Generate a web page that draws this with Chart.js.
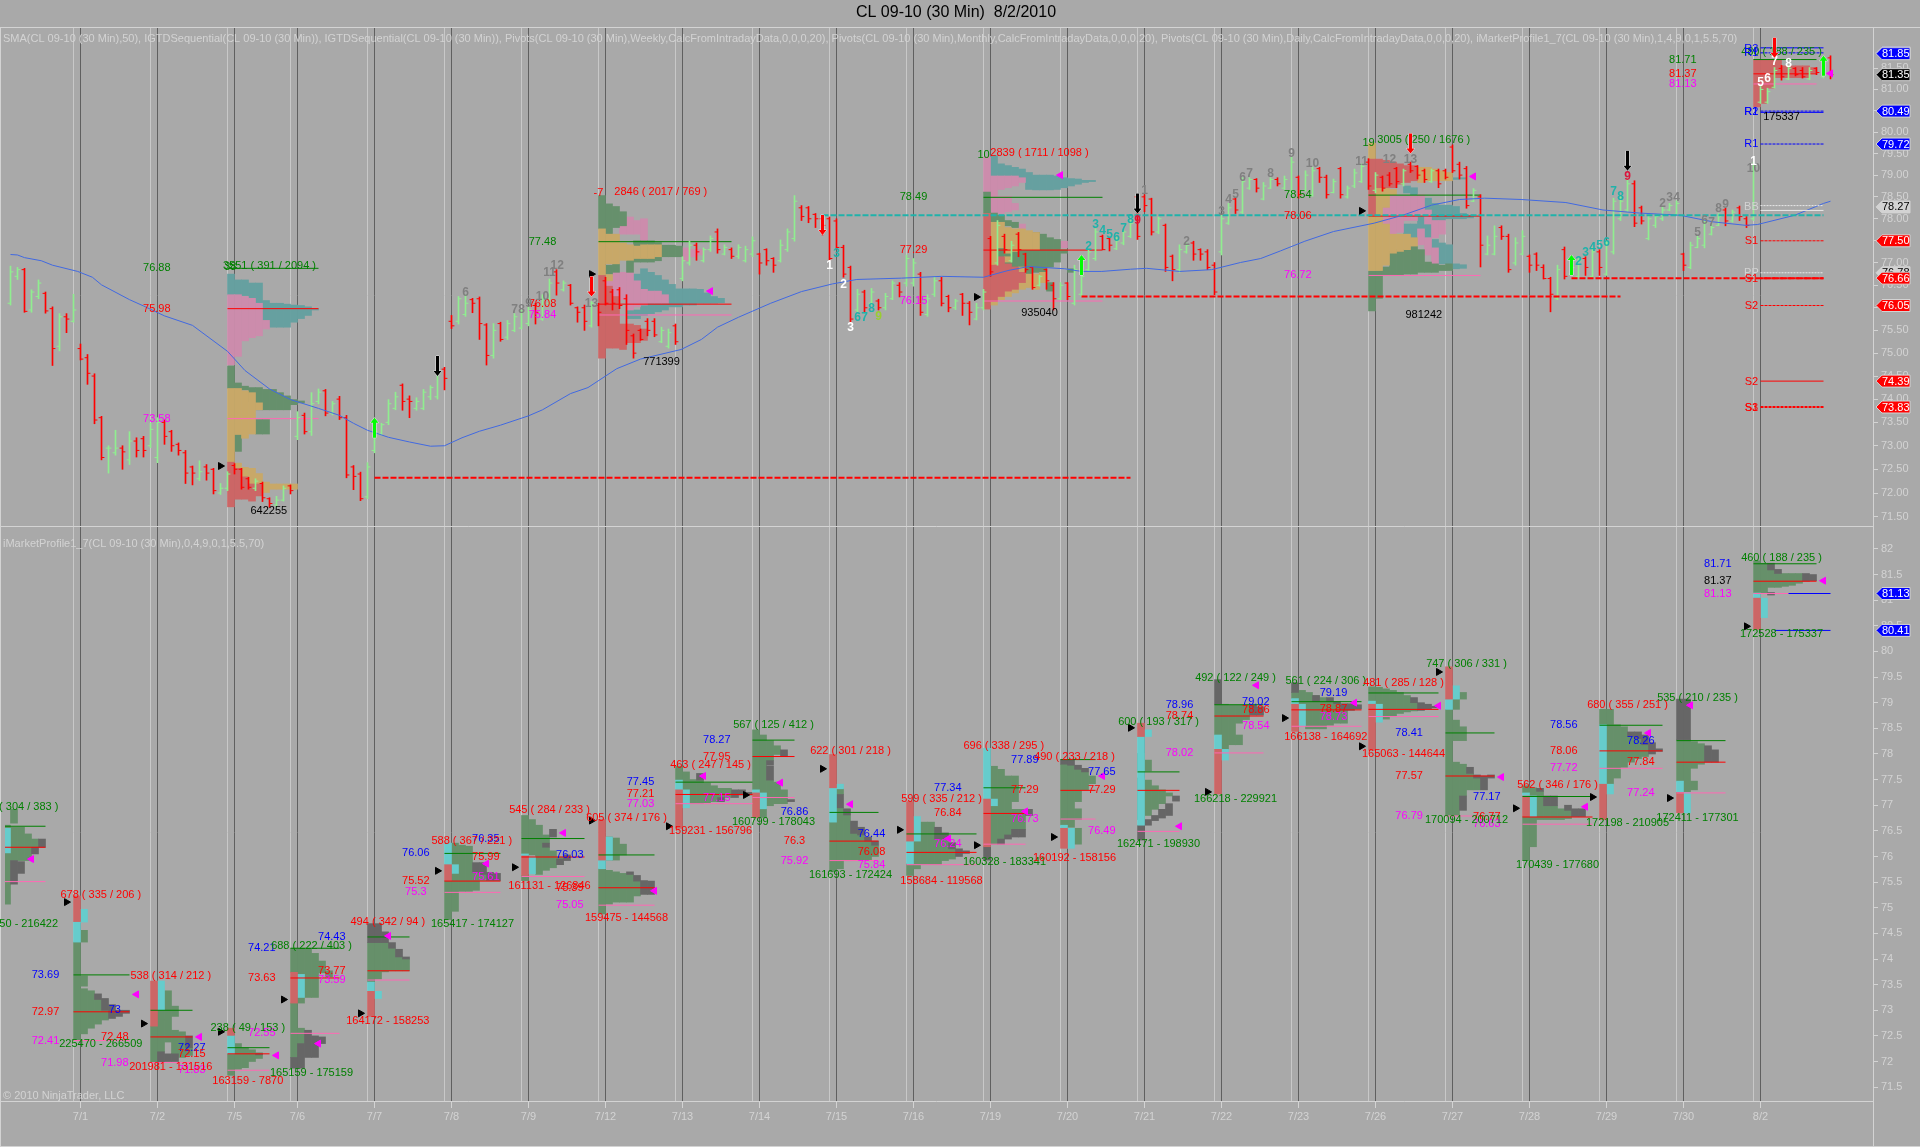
<!DOCTYPE html>
<html>
<head>
<meta charset="utf-8">
<title>CL 09-10 (30 Min) 8/2/2010</title>
<script src="https://cdn.jsdelivr.net/npm/chart.js"></script>
<style>
  html, body { margin: 0; padding: 0; background: #a9a9a9; overflow: hidden; }
  canvas { display: block; }
</style>
</head>
<body>
<canvas id="chart" width="1920" height="1147"></canvas>
<script>
// ====== 30 MIN BARS (one value per bar, left to right) ======
const barHigh = [
  76.93,76.90,76.88,76.40,76.62,76.35,76.02,75.87,75.87,76.30,
  75.20,74.97,74.55,73.63,73.00,73.33,73.00,73.30,73.17,73.20,73.48,
  73.60,73.55,73.33,73.06,72.90,72.57,72.68,72.60,72.52,72.20,72.45,
  72.62,72.52,72.33,72.30,72.23,71.90,71.93,72.15,72.17,
  73.73,73.70,74.14,74.22,74.21,73.95,74.06,73.65,72.58,72.44,72.64,
  73.46,73.48,73.99,74.15,74.33,74.07,74.03,74.21,74.29,74.66,74.69,
  75.83,76.25,76.29,76.21,76.24,75.65,75.65,75.68,75.72,75.87,75.95,
  76.02,76.10,76.29,76.64,76.85,76.60,76.52,76.02,76.06,76.14,76.10,
  76.68,76.41,76.45,76.29,75.42,75.53,75.76,75.76,75.57,75.53,75.64,
  77.14,77.49,77.45,77.34,77.61,77.77,77.41,77.34,77.41,77.38,77.59,
  77.22,77.32,77.12,77.52,77.77,78.53,78.30,78.28,78.12,78.05,78.04,
  78.00,77.40,76.93,76.41,76.39,76.43,76.19,76.32,76.60,76.56,77.18,
  77.10,76.79,76.29,76.68,76.68,76.28,76.19,76.32,76.14,76.10,76.41,
  77.60,77.96,77.65,77.49,77.69,77.22,76.91,76.72,76.87,76.56,76.56,
  76.56,76.95,76.79,77.30,77.77,77.63,77.57,77.57,77.73,77.96,78.55,
  78.55,78.47,78.04,77.88,77.18,77.41,77.45,77.49,77.32,77.30,77.01,
  78.08,78.35,78.47,78.94,78.94,78.92,78.83,78.94,78.94,78.98,79.42,
  78.98,79.10,79.18,79.18,79.00,78.91,79.18,78.75,79.14,79.26,
  79.38,79.06,78.98,79.06,79.18,79.14,79.30,79.22,79.14,79.14,79.14,
  79.14,79.70,79.30,79.20,78.69,78.55,77.61,77.84,77.84,77.65,77.57,
  77.73,77.18,77.23,76.96,76.68,76.95,77.36,76.95,77.10,77.14,77.34,
  77.30,77.49,78.47,78.51,78.91,78.87,78.29,78.08,78.08,78.28,78.35,
  78.41,77.22,77.47,77.61,77.96,77.88,78.12,78.24,78.20,78.29,78.05,
  79.30,81.07,81.03,81.52,81.57,81.57,81.52,81.52,81.52,81.52,81.76,81.80
];
const barLow = [
  76.06,76.63,75.90,75.90,76.20,75.88,74.73,75.05,75.45,75.68,
  74.85,74.32,73.47,72.70,72.42,72.80,72.50,72.60,72.76,72.76,72.96,
  72.64,73.03,72.88,72.80,72.20,72.17,72.26,72.27,71.98,71.97,72.05,
  72.40,72.08,72.08,72.05,71.82,71.70,71.70,71.83,71.98,
  73.13,73.25,73.22,73.90,73.64,73.66,73.56,72.32,72.07,71.84,71.88,
  72.85,73.23,73.45,73.77,73.76,73.60,73.76,73.77,73.99,74.00,74.20,
  75.54,75.64,75.81,75.89,75.30,74.74,74.89,75.26,75.30,75.47,75.53,
  75.60,75.64,75.72,76.06,76.28,76.37,76.06,75.68,75.50,75.57,75.60,
  76.06,75.95,75.98,75.19,74.89,75.28,75.38,75.36,75.23,75.11,75.19,
  76.60,76.95,77.06,77.02,77.26,77.22,77.18,77.10,77.10,77.02,77.14,
  76.75,76.95,76.79,77.02,77.26,77.49,77.96,77.91,77.80,77.63,77.06,
  77.30,76.68,75.68,75.91,75.89,76.06,75.95,75.95,76.18,76.24,76.48,
  76.48,75.83,75.81,76.25,76.04,75.91,75.96,75.83,75.62,75.73,75.95,
  76.70,76.95,77.22,77.02,77.14,76.79,76.41,76.48,76.41,75.95,76.18,
  76.18,76.06,76.25,76.83,77.06,77.30,77.27,77.30,77.41,77.57,77.53,
  78.16,77.63,77.66,76.81,76.60,76.79,77.22,77.06,77.06,76.85,76.29,
  77.18,77.87,78.12,78.12,78.67,78.61,78.43,78.69,78.75,78.67,78.55,
  78.47,78.63,78.51,78.83,78.47,78.59,78.47,78.47,78.71,78.83,
  78.67,78.59,78.63,78.75,78.71,78.75,79.06,78.91,78.83,78.83,78.71,
  78.91,79.06,78.91,78.24,78.39,76.91,77.18,77.18,77.53,76.79,76.95,
  77.18,76.79,76.83,76.64,75.91,76.18,76.64,76.72,76.68,76.72,76.68,
  76.72,76.72,77.20,77.96,78.16,77.82,77.88,77.52,77.80,77.96,78.18,
  78.08,76.83,76.87,77.34,77.34,77.63,77.84,77.84,77.92,77.96,77.80,
  77.96,80.67,80.67,81.03,81.22,81.23,81.32,81.27,81.23,81.35,81.27,81.25
];
const barOpen = [
  76.10,76.70,76.85,75.95,76.25,76.32,75.98,75.15,75.80,75.70,
  75.10,74.90,74.50,73.60,72.95,72.85,72.95,72.70,73.10,73.15,73.00,
  72.75,73.50,73.30,73.03,72.85,72.55,72.30,72.55,72.50,72.00,72.10,
  72.58,72.50,72.30,72.10,72.20,71.88,71.75,71.85,72.15,
  73.20,73.65,73.30,73.95,74.18,73.70,74.00,73.60,72.55,72.40,71.92,
  72.90,73.25,73.50,73.80,74.30,74.00,73.80,73.80,74.05,74.05,74.65,
  75.70,75.70,75.85,76.18,76.20,75.62,74.95,75.65,75.35,75.50,75.55,
  75.65,76.05,75.75,76.10,76.80,76.40,76.50,76.00,76.00,75.60,76.05,
  76.60,76.35,76.40,76.20,75.38,75.50,75.70,75.70,75.25,75.15,75.60,
  76.65,77.00,77.40,77.05,77.30,77.70,77.20,77.30,77.15,77.05,77.20,
  77.20,77.30,77.10,77.05,77.30,77.55,78.25,78.25,78.10,78.00,78.00,
  77.95,77.35,76.90,75.95,76.35,76.10,76.15,76.00,76.20,76.50,76.55,
  76.55,76.75,75.85,76.30,76.60,76.25,76.00,76.30,76.10,75.75,76.00,
  77.55,77.00,77.60,77.05,77.65,77.20,76.90,76.50,76.85,76.50,76.20,
  76.55,76.10,76.30,76.85,77.10,77.60,77.55,77.32,77.45,77.60,78.50,
  78.50,78.45,77.70,77.85,77.15,76.85,77.25,77.45,77.30,77.25,76.95,
  77.25,77.90,78.45,78.15,78.70,78.90,78.45,78.70,78.90,78.70,78.60,
  78.95,78.65,78.55,79.15,78.95,78.60,79.15,78.50,78.75,78.85,
  79.30,78.65,78.95,79.00,79.15,78.80,79.25,79.20,79.10,78.85,79.10,
  79.10,79.65,79.25,79.15,78.40,78.50,77.20,77.20,77.80,77.60,77.00,
  77.20,77.15,77.20,76.90,76.65,76.20,77.30,76.75,76.70,77.10,76.70,
  77.25,76.75,77.25,78.00,78.20,78.80,78.25,77.55,77.85,78.00,78.20,
  78.10,77.20,76.90,77.35,77.40,77.65,77.85,78.20,77.95,78.25,78.00,
  78.00,80.70,80.70,81.05,81.50,81.25,81.50,81.45,81.25,81.50,81.30,81.75
];
const barClose = [
  76.80,76.85,75.92,76.35,76.55,75.93,75.10,75.80,75.75,75.95,
  74.87,74.56,73.55,72.75,72.95,72.95,72.87,73.10,72.90,72.90,73.35,
  73.50,73.20,73.00,72.90,72.42,72.42,72.45,72.42,72.05,72.10,72.40,
  72.50,72.12,72.12,72.25,71.90,71.78,71.85,72.10,72.05,
  73.60,73.30,73.90,74.15,73.70,73.90,73.60,72.38,72.35,71.88,72.55,
  73.30,73.45,73.90,74.05,73.95,73.95,73.95,74.15,74.25,74.55,74.45,
  75.60,76.20,76.10,76.10,75.65,74.95,75.50,75.30,75.65,75.80,75.90,
  75.95,75.90,76.20,76.55,76.55,76.55,76.10,75.90,75.70,76.10,75.90,
  76.10,76.10,76.05,75.50,75.00,75.30,75.50,75.40,75.50,75.45,75.25,
  77.05,77.40,77.25,77.30,77.55,77.30,77.35,77.15,77.35,77.30,77.50,
  77.00,77.05,76.95,77.40,77.70,78.40,78.05,78.00,78.00,77.85,77.10,
  77.35,76.75,75.75,76.30,76.00,76.35,76.00,76.25,76.55,76.35,77.10,
  77.00,75.90,76.20,76.60,76.10,76.00,76.15,76.10,75.90,76.00,76.35,
  76.80,77.85,77.30,77.40,77.30,76.85,76.45,76.70,76.60,76.20,76.50,
  76.25,76.85,76.70,77.25,77.70,77.30,77.40,77.50,77.70,77.90,77.60,
  78.30,77.70,78.00,76.90,76.85,77.30,77.40,77.20,77.20,76.90,76.35,
  78.00,78.25,78.20,78.85,78.90,78.70,78.75,78.90,78.80,78.90,79.30,
  78.55,79.00,79.10,78.95,78.55,78.85,78.55,78.70,79.05,79.20,
  78.75,79.00,78.70,78.80,78.85,79.10,79.10,79.00,78.90,79.10,78.80,
  78.95,79.10,79.00,78.30,78.65,77.40,77.40,77.60,77.60,76.85,77.45,
  77.60,76.95,76.95,76.65,76.30,76.85,76.70,76.90,77.05,76.90,77.25,
  76.90,77.45,78.40,78.40,78.80,77.90,77.95,78.00,78.05,78.20,78.30,
  78.35,76.95,77.40,77.55,77.90,77.80,78.05,77.95,78.15,78.05,77.85,
  79.20,81.00,80.95,81.45,81.30,81.50,81.35,81.30,81.45,81.40,81.70,81.35
];

// ====== SMA 50 AT THESE BARS ======
const smaBar = [0,1,2,4.4,6,9.6,11.7,13,17,19,22,26,31,33.5,37,40,44,47,49,51,54,57,60,62,64.5,67,70,74,76,80,82.5,86.6,90,95.8,98.7,101,104,108.6,113,117.4,120.9,127.3,133,139,142.5,145.4,150.6,153,155.9,160,162.3,167,171.6,175.7,178.6,181.4,184.9,189,194.8,198.9,203,207,210.6,215.8,222.2,227.5,232.7,238.5,243.2,247.9,249.6,254.9,259,260];
const smaValue = [77.19,77.18,77.12,77.05,76.95,76.81,76.68,76.51,76.18,76.04,75.82,75.61,75.04,74.62,74.22,73.99,73.80,73.65,73.48,73.33,73.18,73.08,72.99,73.00,73.17,73.31,73.44,73.64,73.77,74.12,74.25,74.66,74.87,75.08,75.30,75.57,75.79,76.10,76.36,76.53,76.63,76.66,76.70,76.68,76.83,76.92,76.87,76.81,76.81,76.86,76.88,76.81,76.85,77.01,77.10,77.27,77.49,77.71,77.90,78.08,78.31,78.44,78.47,78.44,78.37,78.20,78.13,78.08,77.93,77.85,77.87,78.08,78.35,78.40];

// ====== SESSIONS ======
const dayLabels = ["7/1","7/2","7/5","7/6","7/7","7/8","7/9","7/12","7/13","7/14","7/15","7/16","7/19","7/20","7/21","7/22","7/23","7/26","7/27","7/28","7/29","7/30","8/2"];
const dayStart = [9,20,31,40,51,62,73,84,95,106,117,128,139,150,161,172,183,194,205,216,227,238,249];

// ====== DAILY PROFILE LEVELS (LOWER PANEL) ======
const lowerStart = [-1,9,20,31,40,51,62,73,84,95,106,117,128,139,150,161,172,183,194,205,216,227,238,249];
const lowerEnd   = [5,17,26,37,47,57,70,82,92,106,112,124,138,145,155,167,179,193,204,212,226,236,245,258];
const lowerVah   = [76.59,73.69,73,72.27,74.21,74.43,76.06,76.35,76.03,77.45,78.27,76.86,76.44,77.34,77.89,77.65,78.96,79.02,79.19,78.41,77.17,78.56,78.26,81.71];
const lowerPoc   = [76.18,72.97,72.48,72.15,73.63,73.77,75.52,75.99,75.39,77.21,77.95,76.3,76.08,76.84,77.29,77.29,78.74,78.86,78.87,77.57,76.77,78.06,77.84,81.37];
const lowerVal   = [75.51,72.41,71.98,71.83,72.55,73.59,75.3,75.61,75.05,77.03,77.15,75.92,75.84,76.24,76.73,76.49,78.02,78.54,78.73,76.79,76.63,77.72,77.24,81.13];
const lowerValueX = [null,5,14.9,25.9,35.9,45.9,57.9,67.9,79.9,90,100.9,112,123,133.9,144.9,155.9,167,177.9,189,199.8,210.9,221.9,232.9,243.9];

// ====== COMPOSITE PROFILE LEVELS (UPPER PANEL) ======
const upperStart = [31,84,139,194,249];
const upperEnd   = [44,103,156,210,258];
const upperVah   = [76.88,77.48,78.49,78.54,81.71];
const upperPoc   = [75.98,76.08,77.29,78.06,81.37];
const upperVal   = [73.58,75.84,76.15,76.72,81.13];
const upperValueX = [20.9,76,129,183.9,238.9];

// ====== DASHED LEVELS (UPPER PANEL) ======
const redLevelFrom = [52,153,223];
const redLevelTo = [160,230,259];
const redLevelPrice = [72.32,76.25,76.66];
const tealLevelFrom = [116];
const tealLevelTo = [259];
const tealLevelPrice = [78.08];

// ====== PIVOTS ======
const pivotFrom = 250;
const pivotTo = 259;
const pivotBlueSolid = [81.99,80.46];
const pivotBlueDotted = [81.87,80.49,79.72];
const pivotWhiteSolid = [78.19];
const pivotWhiteDotted = [78.30,76.78];
const pivotRedSolid = [74.39];
const pivotRedDotted = [77.50,76.05];
const pivotRedHeavy = [76.66,73.83];
const pivotNames = [["R3",81.97],["R1",81.86],["R2",80.47],["R1",80.46],["R1",79.71]];
const pivotNamesWhite = [["BB",78.27],["PP",76.78]];
const pivotNamesRed = [["S1",77.49],["S1",76.64],["S2",76.04],["S2",74.38],["S3",73.81],["S1",73.81]];

// ====== PROFILE COLUMNS, UPPER PANEL: [bar, low, high] ======
const upperTeal = [
  [31.5,76.29,76.75],[32.5,76.29,76.62],[33.5,76.27,76.62],[34.5,76.21,76.55],[35.5,75.98,76.55],[36.5,75.72,76.16],[37.5,75.57,76.10],[38.5,75.57,76.10],[39.5,75.57,76.08],[40.5,75.68,76.06],[41.5,75.76,76.05],[42.5,75.83,76.02],[43.5,75.95,75.98],
  [88.5,75.76,75.95],[88.5,76.60,76.75],[89.5,75.76,75.95],[89.5,76.60,76.75],[90.5,75.83,76.06],[90.5,76.41,76.87],[91.5,75.87,76.10],[91.5,76.37,76.79],[92.5,75.91,76.10],[92.5,76.37,76.72],[93.5,75.95,76.10],[93.5,76.29,76.62],[94.5,76.02,76.52],[95.5,76.02,76.42],[96.5,76.06,76.42],[97.5,76.06,76.42],[98.5,76.10,76.41],[99.5,76.10,76.33],[100.5,76.10,76.25],[101.5,76.11,76.21],
  [140.5,78.98,79.45],[141.5,78.98,79.26],[142.5,78.98,79.22],[143.5,78.98,79.18],[144.5,78.94,79.14],[145.5,78.67,79.06],[146.5,78.66,79.00],[147.5,78.66,79.00],[148.5,78.66,79.00],[149.5,78.67,78.98],[150.5,78.71,78.94],[151.5,78.75,78.92],[152.5,78.79,78.91],[153.5,78.83,78.88],[154.5,78.85,78.88],
  [199.5,78.59,78.75],[199.5,77.65,77.88],[200.5,78.55,78.71],[200.5,77.57,77.88],[201.5,77.77,78.05],[202.5,78.20,78.47],[202.5,77.57,77.88],[203.5,77.96,78.35],[203.5,77.34,77.53],[204.5,77.96,78.31],[204.5,76.98,77.45],[205.5,78.00,78.31],[205.5,76.98,77.41],[206.5,78.90,78.94],[206.5,78.00,78.28],[206.5,76.87,76.98],[207.5,78.91,78.94],[207.5,78.00,78.12],[207.5,76.88,76.96],[208.5,78.02,78.08]
];
const upperPink = [
  [31.5,74.74,76.29],[32.5,74.93,76.29],[33.5,75.27,76.25],[34.5,75.34,76.21],[35.5,75.38,76.10],[36.5,75.53,75.72],
  [85.5,76.48,76.60],[86.5,76.25,76.79],[87.5,76.18,76.79],[87.5,77.65,77.84],[88.5,75.95,76.79],[88.5,77.65,78.04],[89.5,76.02,76.60],[89.5,77.65,77.96],[90.5,76.06,76.41],[90.5,77.50,78.00],[91.5,76.10,76.37],[92.5,76.10,76.37],[93.5,76.10,76.29],[96.5,77.05,77.34],[97.5,77.14,77.30],[98.5,77.18,77.30],
  [139.5,78.59,79.42],[140.5,78.13,78.98],[141.5,78.67,78.98],[141.5,78.12,78.51],[142.5,78.71,78.98],[142.5,78.16,78.51],[143.5,78.75,78.98],[143.5,78.20,78.35],[144.5,78.83,78.94],[144.5,77.77,77.88],[150.5,77.34,77.49],
  [196.5,77.88,78.26],[197.5,77.65,78.55],[198.5,77.69,78.51],[199.5,77.96,78.51],[200.5,77.96,78.51],[201.5,78.12,78.55],[201.5,77.41,77.77],[202.5,77.88,78.20],[202.5,77.18,77.57],[203.5,77.57,77.96],[203.5,76.95,77.34],[204.5,77.65,77.96]
];
const upperGreen = [
  [31.5,74.23,74.72],[32.5,74.23,74.35],[32.5,72.88,73.24],[33.5,74.20,74.28],[34.5,73.96,74.25],[35.5,73.77,74.25],[35.5,73.25,73.56],[36.5,73.77,74.21],[36.5,73.25,73.56],[37.5,73.77,74.21],[38.5,73.77,74.14],[39.5,73.77,74.07],[40.5,73.88,73.99],[41.5,73.92,73.96],
  [84.5,77.77,78.53],[85.5,77.65,78.34],[85.5,76.75,76.95],[86.5,77.80,78.28],[86.5,76.79,76.98],[87.5,77.84,78.16],[88.5,76.79,77.06],[89.5,77.02,77.50],[90.5,77.02,77.50],[91.5,77.02,77.50],[92.5,77.05,77.46],[93.5,77.14,77.40],[94.5,77.14,77.40],[95.5,77.14,77.38],
  [139.5,78.13,78.61],[140.5,77.92,78.13],[141.5,77.92,78.08],[141.5,77.14,77.34],[142.5,77.84,77.96],[142.5,76.98,77.22],[143.5,77.80,77.92],[143.5,76.91,77.26],[144.5,76.75,77.30],[145.5,76.75,77.30],[146.5,76.79,77.69],[147.5,76.75,77.65],[148.5,76.91,77.57],[148.5,76.37,76.56],[149.5,77.02,77.53],[150.5,77.22,77.30],[151.5,76.79,76.87],
  [194.5,75.93,76.82],[195.5,76.21,76.83],[196.5,76.72,76.91],[197.5,76.72,77.26],[198.5,76.72,77.30],[199.5,76.75,77.30],[200.5,76.75,77.38],[201.5,76.79,77.30],[202.5,76.79,77.02],[203.5,76.79,76.98],[204.5,76.83,76.95],[205.5,76.83,76.98]
];
const upperOrange = [
  [31.5,72.65,74.23],[32.5,73.24,74.23],[33.5,73.16,74.18],[34.5,73.25,74.14],[35.5,73.77,73.92],[32.5,72.52,72.63],[33.5,72.34,72.54],[34.5,72.19,72.52],[35.5,71.94,72.41],[36.5,72.01,72.23],[37.5,72.08,72.19],[38.5,72.08,72.19],[39.5,72.08,72.19],[40.5,72.08,72.19],
  [84.5,76.72,77.77],[85.5,76.98,77.65],[85.5,76.60,76.74],[86.5,76.98,77.65],[87.5,77.06,77.45],[88.5,77.06,77.41],[89.5,77.10,77.38],[90.5,77.10,77.41],[91.5,77.10,77.41],[92.5,77.14,77.41],
  [140.5,76.95,77.92],[140.5,76.06,76.14],[141.5,77.34,77.92],[141.5,76.18,76.25],[142.5,77.22,77.80],[142.5,77.02,77.14],[142.5,76.25,76.37],[143.5,77.26,77.77],[143.5,76.33,76.41],[144.5,77.30,77.77],[144.5,76.41,76.91],[145.5,77.30,77.73],[145.5,76.45,76.75],[146.5,77.30,77.69],[146.5,76.41,76.75],[147.5,76.56,76.79],
  [194.5,79.38,79.74],[194.5,76.83,78.08],[195.5,76.83,78.71],[196.5,78.26,78.71],[196.5,76.95,77.88],[197.5,78.55,78.67],[197.5,77.22,77.65],[198.5,77.26,77.65],[199.5,77.30,77.65],[200.5,77.38,77.57],[201.5,78.83,79.18],[202.5,78.87,79.18],[203.5,78.87,79.14],[204.5,78.87,79.10],[205.5,78.87,79.06]
];
const upperRed = [
  [31.5,71.71,72.65],[32.5,71.87,72.52],[33.5,71.87,72.34],[34.5,71.83,72.19],[35.5,71.94,72.19],
  [84.5,74.89,76.72],[85.5,75.11,76.48],[86.5,75.11,76.25],[87.5,75.08,75.64],[88.5,75.23,75.64],[89.5,75.23,75.61],[90.5,75.28,75.53],
  [139.5,75.97,78.12],[140.5,76.14,76.95],[141.5,76.25,77.14],[142.5,76.37,76.98],[143.5,76.41,76.91],[144.5,76.56,76.79],
  [194.5,78.08,79.37],[195.5,78.71,79.37],[196.5,78.71,79.34],[197.5,78.71,79.30],[198.5,78.79,79.26],[199.5,78.83,79.22],[200.5,78.87,79.22],
  [249.5,80.59,81.71],[250.5,80.67,81.71],[251.5,81.03,81.71],[252.5,81.28,81.71],[253.5,81.28,81.56],[254.5,81.28,81.56],[255.5,81.28,81.56],[256.5,81.28,81.56],[257.5,81.40,81.52]
];

// ====== PROFILE COLUMNS, LOWER PANEL: [bar, low, high] ======
const lowerGreen = [
  [-0.5,75.07,76.61],[0.5,76.65,76.92],[0.5,75.92,76.57],[1.5,75.92,76.57],[2.5,75.92,76.44],[3.5,76.18,76.34],
  [9.5,72.42,74.33],[10.5,74.33,74.56],[10.5,73.47,73.67],[10.5,72.54,73.42],[11.5,72.65,73.38],[12.5,72.73,73.21],[13.5,72.81,73.00],
  [20.5,71.98,72.69],[21.5,72.81,73.01],[21.5,72.19,72.81],[22.5,72.38,73.38],[23.5,72.88,73.08],[23.5,72.15,72.61],[24.5,72.08,72.58],[25.5,72.12,72.27],
  [31.5,71.73,72.15],[32.5,71.85,72.35],[33.5,71.88,72.27],[34.5,72.00,72.23],[35.5,72.06,72.17],
  [40.5,73.74,74.21],[40.5,72.08,73.14],[41.5,73.70,74.21],[41.5,73.14,73.25],[41.5,72.35,72.65],[42.5,73.25,74.19],[43.5,73.25,74.11],[44.5,73.73,73.96],[45.5,73.65,73.77],
  [51.5,73.55,74.32],[52.5,73.61,74.32],[53.5,73.75,74.32],[54.5,73.77,74.21],[55.5,73.77,74.04],[56.5,73.77,74.00],
  [62.5,74.77,75.53],[63.5,75.84,76.26],[63.5,74.93,75.67],[64.5,75.32,76.22],[65.5,75.32,76.20],[66.5,75.34,75.69],[67.5,75.53,75.65],
  [73.5,76.05,76.80],[73.5,75.53,75.63],[74.5,76.03,76.72],[75.5,75.65,76.61],[76.5,76.26,76.42],[76.5,75.73,76.18],[77.5,75.78,76.11],[78.5,75.84,75.99],
  [84.5,74.88,75.76],[85.5,75.93,76.38],[85.5,75.07,75.73],[86.5,75.93,76.36],[86.5,75.11,75.70],[87.5,76.03,76.24],[87.5,75.11,75.67],[88.5,75.11,75.65],[89.5,75.23,75.52],
  [95.5,77.49,77.76],[96.5,77.30,77.65],[97.5,77.03,77.50],[98.5,77.03,77.49],[99.5,77.05,77.43],[100.5,77.07,77.38],[101.5,77.15,77.33],[102.5,77.15,77.33],
  [106.5,77.30,78.47],[107.5,77.24,78.37],[107.5,76.76,76.93],[108.5,77.87,78.26],[108.5,76.99,77.49],[109.5,77.99,78.16],[109.5,77.03,77.45],[110.5,77.03,77.30],
  [117.5,75.70,76.67],[118.5,77.21,77.32],[118.5,75.76,76.95],[119.5,75.93,76.81],[120.5,75.93,76.45],[121.5,75.93,76.42],[122.5,75.93,76.30],[123.5,76.00,76.22],
  [128.5,75.63,75.86],[129.5,75.76,76.30],[130.5,75.84,76.67],[131.5,75.84,76.67],[132.5,75.84,76.46],[133.5,75.92,76.34],[134.5,75.95,76.15],
  [140.5,76.99,77.76],[140.5,76.24,77.00],[141.5,76.34,77.70],[142.5,76.42,77.57],[143.5,77.07,77.57],[143.5,76.53,76.92],[144.5,76.53,76.92],
  [150.5,76.61,77.80],[151.5,76.57,77.78],[152.5,77.07,77.70],[152.5,76.72,76.93],[152.5,76.24,76.55],[153.5,77.30,77.65],[154.5,77.42,77.57],
  [161.5,76.72,77.53],[161.5,77.67,78.01],[162.5,77.67,77.88],[162.5,76.80,77.49],[163.5,76.92,77.38],[164.5,77.03,77.30],[165.5,77.18,77.24],
  [172.5,78.37,78.97],[173.5,78.09,78.97],[174.5,78.18,78.95],[175.5,78.60,78.95],[175.5,78.18,78.37],[176.5,78.67,78.95],
  [183.5,79.08,79.20],[184.5,78.97,79.24],[185.5,78.49,79.20],[186.5,78.49,79.14],[187.5,78.49,79.10],[188.5,78.56,79.02],[189.5,78.60,78.98],[190.5,78.60,78.95],
  [194.5,79.03,79.31],[195.5,78.97,79.30],[196.5,78.68,79.27],[197.5,78.74,79.24],[198.5,78.79,79.20],[199.5,78.82,79.14],[200.5,78.84,79.00],
  [205.5,76.80,78.87],[206.5,78.87,79.07],[206.5,78.26,78.66],[206.5,76.80,77.84],[207.5,79.07,79.20],[207.5,78.26,78.53],[207.5,77.18,77.80],[208.5,77.30,77.62],[209.5,77.30,77.53],
  [216.5,77.24,77.38],[216.5,75.92,76.78],[217.5,77.18,77.34],[217.5,76.19,76.78],[218.5,76.72,77.27],[219.5,76.72,76.99],[220.5,76.72,76.99],[221.5,76.72,76.93],[222.5,76.74,76.90],
  [227.5,78.57,78.87],[228.5,77.41,78.87],[229.5,77.53,78.57],[230.5,77.74,78.53],[231.5,77.84,78.34],[232.5,77.91,78.30],[233.5,77.95,78.18],
  [238.5,77.47,78.28],[239.5,77.25,78.28],[240.5,77.72,78.24],[240.5,77.30,77.47],[241.5,77.80,78.20],
  [249.5,81.14,81.77],[250.5,81.14,81.72],[251.5,81.25,81.59],[252.5,81.25,81.52],[253.5,81.27,81.52],[254.5,81.29,81.52],[255.5,81.33,81.52]
];
const lowerGrey = [
  [0.5,75.46,75.92],[1.5,75.67,75.90],[3.5,76.05,76.18],[4.5,76.18,76.34],
  [12.5,73.21,73.32],[13.5,73.00,73.23],[14.5,72.84,73.11],[15.5,72.88,73.00],[16.5,72.94,73.00],
  [21.5,71.98,72.19],[22.5,72.00,72.15],[23.5,72.00,72.15],[25.5,72.27,72.50],
  [35.5,72.13,72.15],
  [40.5,71.87,72.08],[41.5,71.87,72.35],[42.5,72.08,72.61],[43.5,72.08,72.50],[44.5,72.35,72.48],
  [51.5,74.32,74.69],[52.5,74.32,74.69],[53.5,74.32,74.53],[54.5,74.21,74.32],[55.5,74.04,74.19],[56.5,74.00,74.04],
  [66.5,75.69,75.88],[67.5,75.65,75.88],[68.5,75.53,75.69],[69.5,75.53,75.67],
  [76.5,76.18,76.26],[77.5,76.38,76.53],[78.5,75.84,75.95],[79.5,75.92,76.03],
  [88.5,75.65,75.70],[89.5,75.52,75.63],[90.5,75.26,75.53],[91.5,75.26,75.52],
  [98.5,77.49,77.62],[101.5,77.07,77.15],[103.5,77.15,77.30],[104.5,77.20,77.30],[105.5,77.20,77.25],
  [108.5,77.49,77.76],[108.5,77.78,77.87],[110.5,77.95,78.08],[111.5,77.07,77.11],
  [118.5,76.95,77.21],[119.5,76.81,76.93],[120.5,76.45,76.69],[121.5,76.42,76.57],[122.5,76.30,76.38],[123.5,76.22,76.30],
  [132.5,76.34,76.57],[133.5,76.34,76.46],[134.5,76.15,76.27],[135.5,76.00,76.15],[136.5,76.06,76.11],
  [139.5,75.93,76.19],[141.5,76.24,76.34],[142.5,76.34,76.42],[143.5,76.38,76.53],[144.5,76.38,76.53],[145.5,76.80,76.92],
  [150.5,77.80,77.89],[151.5,77.78,77.89],[152.5,77.70,77.78],[153.5,77.65,77.72],
  [161.5,76.32,76.61],[162.5,76.61,76.72],[163.5,76.70,76.80],[164.5,76.75,76.92],[165.5,76.80,77.03],[166.5,77.08,77.18],
  [172.5,78.97,79.45],[177.5,78.76,78.95],[178.5,78.76,78.92],
  [183.5,79.20,79.39],[186.5,79.02,79.14],[188.5,79.02,79.10],[189.5,78.98,79.02],[190.5,78.85,78.98],[191.5,78.85,78.98],[192.5,78.88,78.96],
  [200.5,79.00,79.10],[201.5,78.85,79.00],[202.5,78.88,78.97],[203.5,78.90,78.93],
  [207.5,76.90,77.18],[208.5,77.62,77.74],[209.5,77.53,77.59],[210.5,77.30,77.57],[211.5,77.53,77.59],
  [218.5,77.27,77.33],[219.5,76.99,77.18],[220.5,76.99,77.18],[222.5,76.90,77.00],[223.5,76.78,76.93],[224.5,76.78,76.93],
  [231.5,78.34,78.43],[232.5,78.30,78.43],[233.5,78.18,78.37],[234.5,78.00,78.22],[235.5,78.05,78.10],
  [238.5,78.28,79.07],[239.5,78.28,79.07],[242.5,77.84,78.16],[243.5,77.84,78.08],
  [251.5,81.59,81.72],[252.5,81.52,81.60],[256.5,81.37,81.52],[257.5,81.38,81.50],[251.5,81.10,81.15]
];
const lowerCyan = [
  [-0.5,76.07,76.55],[9.5,74.33,74.73],[10.5,74.72,74.97],[21.5,73.01,73.57],[31.5,72.15,72.51],[41.5,73.25,73.70],[51.5,73.37,73.55],[52.5,73.23,73.37],
  [62.5,75.84,76.26],[63.5,75.67,75.84],[73.5,76.01,76.05],[74.5,75.66,75.99],[84.5,75.76,75.93],[85.5,75.93,76.38],
  [95.5,77.30,77.49],[96.5,76.95,77.30],[106.5,77.24,77.30],[107.5,76.93,77.24],[117.5,76.67,77.34],[118.5,77.32,77.41],
  [128.5,75.86,76.30],[129.5,76.30,76.78],[139.5,77.12,78.11],[140.5,76.99,77.12],[150.5,76.55,76.61],[151.5,76.16,76.55],
  [161.5,76.61,78.34],[162.5,78.34,78.47],[172.5,78.09,78.37],[173.5,77.88,78.09],[183.5,78.97,79.08],[184.5,78.55,78.97],
  [194.5,78.97,79.03],[195.5,78.62,78.97],[205.5,78.87,79.07],[206.5,79.07,79.33],[216.5,77.18,77.24],[217.5,76.78,77.18],
  [227.5,77.41,78.57],[228.5,77.22,77.41],[238.5,77.25,77.47],[239.5,76.85,77.25],[249.5,81.04,81.14],[250.5,80.66,81.04]
];
const lowerRed = [
  [9.5,74.73,75.23],[20.5,72.69,73.57],[31.5,72.51,72.65],[40.5,73.14,73.74],[51.5,72.88,73.37],[62.5,75.53,75.84],[73.5,75.63,76.01],[84.5,75.93,76.72],
  [95.5,76.55,77.30],[106.5,76.76,77.24],[117.5,77.34,77.99],[128.5,76.30,77.07],[139.5,76.19,77.12],[150.5,76.16,76.55],[161.5,78.34,78.60],[172.5,77.22,78.09],
  [183.5,78.44,78.97],[194.5,78.07,78.97],[205.5,79.07,79.70],[216.5,76.78,77.18],[227.5,76.72,77.41],[238.5,76.85,77.25],[249.5,80.43,81.04]
];

// ====== ARROWHEADS ======
const lowerBlackTips = [[8,75.11],[19,72.74],[30,72.58],[39,73.21],[50,72.94],[61,75.72],[72,75.79],[83,76.70],[94,76.59],[105,77.20],[116,77.71],[127,76.52],[138,76.22],[149,76.38],[160,78.51],[171,77.26],[182,78.70],[193,78.15],[204,79.60],[215,76.94],[226,77.16],[237,77.14],[248,80.49]];
const lowerMagentaTips = [[3,75.95],[18,73.31],[27,72.48],[38,72.12],[44,72.35],[54,74.45],[68,75.86],[79,76.46],[92,75.33],[99,77.57],[110,77.44],[120,77.02],[134,76.35],[145,76.88],[156,77.57],[167,76.59],[178,79.34],[192,79.00],[204,78.94],[213,77.55],[225,76.97],[234,78.41],[240,78.95],[259,81.38]];
const upperBlackTips = [[30,72.57],[83,76.75],[138,76.24],[193,78.18]];
const upperMagentaTips = [[100,76.37],[150,79.00],[209,78.97],[260,81.38]];

// ====== SIGNAL ARROWS: bar, tip price ======
const greenUpArrows = [[52,73.60],[153,77.18],[223,77.18],[259,81.80]];
const redDownArrows = [[83,76.25],[116,77.63],[200,79.50],[252,81.75]];
const blackDownArrows = [[61,74.50],[161,78.12],[231,79.10]];

// ====== TEXT, UPPER PANEL: [text, bar, price] ======
const upperGreenText = [["3551 ( 391 / 2094 )",37,76.94],["38",31.4,76.92],["10",139,79.47],["19",194,79.75],["3005 ( 250 / 1676 )",201.9,79.81],["480 ( 188 / 235 )",253,81.89]];
const upperRedText = [["-7",84,78.58],["2846 ( 2017 / 769 )",92.9,78.62],["2839 ( 1711 / 1098 )",147,79.52]];
const upperBlackText = [["642255",36.9,71.62],["771399",93,74.81],["935040",147,75.88],["981242",201.9,75.83],["175337",253,80.36]];
const upperGreyCounts = [["6",65,76.34],["7",72,75.95],["8",73,75.95],["9",74,76.08],["10",76,76.24],["11",77,76.79],["12",78.1,76.93],["13",83,76.08],["1",162,78.65],["2",168,77.49],["3",173,78.16],["4",174,78.43],["5",175,78.55],["6",176,78.93],["7",177,79.04],["8",180,79.04],["9",183,79.50],["10",186,79.27],["11",193,79.30],["12",197,79.36],["13",200,79.36],["2",236,78.35],["3",237,78.48],["4",238,78.48],["5",241,77.69],["6",242,77.96],["7",243,77.92],["8",244,78.22],["9",245,78.33],["10",249,79.14]];
const upperTealCounts = [["3",118,77.20],["6",121,75.78],["7",122,75.78],["8",123,75.98],["2",154,77.36],["3",155,77.86],["4",156,77.73],["5",157,77.63],["6",158,77.57],["7",159,77.77],["8",160,77.98],["2",224,77.02],["3",225,77.23],["4",226,77.34],["5",227,77.38],["6",228,77.45],["7",229,78.63],["8",230,78.50]];
const upperWhiteCounts = [["1",117,76.93],["2",119,76.52],["3",120,75.57],["5",250,81.17],["6",251,81.25],["7",252,81.65],["8",254,81.60],["1",249,79.30]];
const upperCrimsonCounts = [["9",161,77.96],["9",231,78.97]];
const upperLimeCounts = [["9",124,75.81]];

// ====== TEXT, LOWER PANEL: [text, bar, price] ======
const lowerGreenText = [["( 304 / 383 )",2.6,76.96],["50 - 216422",2.6,74.68],["225470 - 266509",12.9,72.34],["238 ( 49 / 153 )",33.9,72.66],["688 ( 222 / 403 )",43,74.25],["165159 - 175159",43,71.77],["165417 - 174127",66,74.68],["567 ( 125 / 412 )",109,78.56],["160799 - 178043",109,76.67],["161693 - 172424",120,75.63],["160328 - 183341",142,75.89],["600 ( 193 / 317 )",164,78.62],["162471 - 198930",164,76.24],["492 ( 122 / 249 )",175,79.48],["166218 - 229921",175,77.12],["561 ( 224 / 306 )",187.9,79.43],["747 ( 306 / 331 )",208,79.75],["170094 - 200712",208,76.72],["170439 - 177680",221,75.83],["172198 - 210905",231,76.65],["535 ( 210 / 235 )",241,79.10],["172411 - 177301",241,76.76],["460 ( 188 / 235 )",253,81.82],["172528 - 175337",253,80.34]];
const lowerRedText = [["678 ( 335 / 206 )",12.9,75.24],["538 ( 314 / 212 )",22.9,73.67],["201981 - 131516",22.9,71.90],["163159 - 7870",33.9,71.63],["494 ( 342 / 94 )",53.9,74.73],["164172 - 158253",53.9,72.80],["588 ( 367 / 221 )",65.9,76.31],["545 ( 284 / 233 )",77,76.90],["161131 - 126846",77,75.43],["605 ( 374 / 176 )",88,76.75],["159475 - 144568",88,74.81],["463 ( 247 / 145 )",100,77.78],["159231 - 156796",100,76.49],["622 ( 301 / 218 )",120,78.05],["599 ( 335 / 212 )",133,77.12],["158684 - 119568",133,75.53],["696 ( 338 / 295 )",141.9,78.15],["490 ( 233 / 218 )",152,77.95],["160192 - 158156",152,75.98],["166138 - 164692",187.9,78.33],["481 ( 285 / 128 )",199,79.38],["165063 - 144644",199,78.00],["562 ( 346 / 176 )",221,77.39],["680 ( 355 / 251 )",231,78.95]];

// ====== RIGHT AXIS ======
const upperTicks = [81.5,81,80.5,80,79.5,79,78.5,78,77.5,77,76.5,76,75.5,75,74.5,74,73.5,73,72.5,72,71.5];
const lowerTicks = [82,81.5,81,80.5,80,79.5,79,78.5,78,77.5,77,76.5,76,75.5,75,74.5,74,73.5,73,72.5,72,71.5];
const upperBlueTags = [81.87,81.85,80.49,79.72];
const upperBlackTags = [81.35];
const upperWhiteTags = [78.27,76.78];
const upperRedTags = [77.50,76.66,76.05,74.39,73.83];
const lowerBlueTags = [81.13,80.41];

// ====== TEXT STRINGS ======
const chartTitle = "CL 09-10 (30 Min)  8/2/2010";
const upperLegend = "SMA(CL 09-10 (30 Min),50), IGTDSequential(CL 09-10 (30 Min)), IGTDSequential(CL 09-10 (30 Min)), Pivots(CL 09-10 (30 Min),Weekly,CalcFromIntradayData,0,0,0,20), Pivots(CL 09-10 (30 Min),Monthly,CalcFromIntradayData,0,0,0,20), Pivots(CL 09-10 (30 Min),Daily,CalcFromIntradayData,0,0,0,20), iMarketProfile1_7(CL 09-10 (30 Min),1,4,9,0,1,5.5,70)";
const lowerLegend = "iMarketProfile1_7(CL 09-10 (30 Min),0,4,9,0,1,5.5,70)";
const copyright = "\u00A9 2010 NinjaTrader, LLC";

// ====== COLOURS ======
const LIGHT = "#d3d3d3";
const UP = "#90ee90";
const DOWN = "#ff0000";
const FONT = '"Liberation Sans", Arial, sans-serif';

// ====== HELPERS ======
function columnSet(rows, color, axis, order) {
  return {
    type: "bar",
    data: rows.map((r) => ({ x: r[0], y: [r[1], r[2]] })),
    backgroundColor: color,
    borderWidth: 0,
    barThickness: 7,
    grouped: false,
    yAxisID: axis,
    order: order,
  };
}

function levelSet(from, to, values, color, width, axis, order, dash) {
  const pts = [];
  values.forEach((v, i) => {
    const a = Array.isArray(from) ? from[i] : from;
    const b = Array.isArray(to) ? to[i] : to;
    pts.push({ x: a, y: v }, { x: b, y: v }, { x: b, y: null });
  });
  return {
    type: "line",
    data: pts,
    borderColor: color,
    borderWidth: width,
    borderDash: dash || [],
    pointRadius: 0,
    spanGaps: false,
    tension: 0,
    yAxisID: axis,
    order: order,
  };
}

function tipSet(rows, color, rotation, axis, order) {
  return {
    type: "scatter",
    data: rows.map((r) => ({ x: r[0], y: r[1] })),
    pointStyle: "triangle",
    pointRadius: 4,
    pointRotation: rotation,
    backgroundColor: color,
    borderColor: color,
    borderWidth: 1,
    yAxisID: axis,
    order: order,
  };
}

function tickSet(values, color) {
  return {
    type: "scatter",
    data: values,
    pointStyle: "line",
    pointRadius: 1.5,
    borderColor: color,
    borderWidth: 1,
    yAxisID: "yTop",
    order: 6,
  };
}

// ====== CHIA BAR THEO CHIỀU ======
const wickUp = [], wickDown = [], tickUp = [], tickDown = [];
barHigh.forEach((h, i) => {
  const up = barClose[i] >= barOpen[i];
  (up ? wickUp : wickDown).push({ x: i, y: [barLow[i], h] });
  const t = up ? tickUp : tickDown;
  t.push({ x: i - 0.2, y: barOpen[i] }, { x: i + 0.2, y: barClose[i] });
});

function wickSet(rows, color) {
  return { type: "bar", data: rows, backgroundColor: color, borderWidth: 0, barThickness: 1, grouped: false, yAxisID: "yTop", order: 7 };
}

const datasets = [
  // upper panel, bottom layer first in the order numbers (higher = further back)
  columnSet(upperTeal, "#66a0a0", "yTop", 20),
  columnSet(upperPink, "#cc8cac", "yTop", 19),
  columnSet(upperGreen, "#66906c", "yTop", 18),
  columnSet(upperOrange, "#c8a868", "yTop", 17),
  columnSet(upperRed, "#cc6666", "yTop", 16),
  levelSet(upperStart, upperEnd, upperVah, "#008000", 1, "yTop", 9),
  levelSet(upperStart, upperEnd, upperPoc, "#ff0000", 1, "yTop", 9),
  levelSet(upperStart, upperEnd, upperVal, "#ff69b4", 1, "yTop", 9),
  wickSet(wickUp, UP),
  wickSet(wickDown, DOWN),
  tickSet(tickUp, UP),
  tickSet(tickDown, DOWN),
  {
    type: "line",
    data: smaBar.map((b, i) => ({ x: b, y: smaValue[i] })),
    borderColor: "#4169e1",
    borderWidth: 1,
    pointRadius: 0,
    tension: 0,
    yAxisID: "yTop",
    order: 4,
  },
  levelSet(redLevelFrom, redLevelTo, redLevelPrice, "#ff0000", 2, "yTop", 3, [6, 2]),
  levelSet(tealLevelFrom, tealLevelTo, tealLevelPrice, "#20b2aa", 2, "yTop", 3, [6, 2]),
  levelSet(pivotFrom, pivotTo, pivotBlueSolid, "#0000ff", 1, "yTop", 3),
  levelSet(pivotFrom, pivotTo, pivotBlueDotted, "#0000ff", 1, "yTop", 3, [3, 1]),
  levelSet(pivotFrom, pivotTo, pivotWhiteSolid, "#e8e8e8", 1, "yTop", 3),
  levelSet(pivotFrom, pivotTo, pivotWhiteDotted, "#e8e8e8", 1, "yTop", 3, [2, 1]),
  levelSet(pivotFrom, pivotTo, pivotRedSolid, "#ff0000", 1, "yTop", 3),
  levelSet(pivotFrom, pivotTo, pivotRedDotted, "#ff0000", 1, "yTop", 3, [3, 1]),
  levelSet(pivotFrom, pivotTo, pivotRedHeavy, "#ff0000", 2, "yTop", 3, [3, 1]),
  tipSet(upperBlackTips, "#000000", 90, "yTop", 2),
  tipSet(upperMagentaTips, "#ff00ff", -90, "yTop", 2),

  // lower panel
  columnSet(lowerGreen, "#66906a", "yBottom", 15),
  columnSet(lowerGrey, "#666666", "yBottom", 14),
  columnSet(lowerCyan, "#66cccc", "yBottom", 13),
  columnSet(lowerRed, "#cc6666", "yBottom", 12),
  levelSet(lowerStart, lowerEnd, lowerVah, "#008000", 1, "yBottom", 9),
  levelSet(lowerStart, lowerEnd, lowerPoc, "#ff0000", 1, "yBottom", 9),
  levelSet(lowerStart, lowerEnd, lowerVal, "#ff69b4", 1, "yBottom", 9),
  levelSet([254, 252], [260, 260], lowerBlueTags, "#0000ff", 1, "yBottom", 8),
  tipSet(lowerBlackTips, "#000000", 90, "yBottom", 2),
  tipSet(lowerMagentaTips, "#ff00ff", -90, "yBottom", 2),
];

// ====== PLUGIN: CHỮ, MŨI TÊN, TAG, KHUNG ======
function putText(ctx, chart, axis, rows, color, font) {
  ctx.fillStyle = color;
  ctx.font = font;
  ctx.textAlign = "center";
  ctx.textBaseline = "middle";
  rows.forEach((r) => {
    ctx.fillText(r[0], chart.scales.x.getPixelForValue(r[1]), chart.scales[axis].getPixelForValue(r[2]));
  });
}

function putArrow(ctx, chart, row, color, down) {
  const x = chart.scales.x.getPixelForValue(row[0]);
  const tip = chart.scales.yTop.getPixelForValue(row[1]);
  const dir = down ? -1 : 1;
  ctx.beginPath();
  ctx.moveTo(x, tip);
  ctx.lineTo(x + 4, tip + dir * 5);
  ctx.lineTo(x + 1.5, tip + dir * 5);
  ctx.lineTo(x + 1.5, tip + dir * 20);
  ctx.lineTo(x - 1.5, tip + dir * 20);
  ctx.lineTo(x - 1.5, tip + dir * 5);
  ctx.lineTo(x - 4, tip + dir * 5);
  ctx.closePath();
  ctx.fillStyle = color;
  ctx.strokeStyle = "#e8e8e8";
  ctx.lineWidth = 1;
  ctx.stroke();
  ctx.fill();
}

function putTag(ctx, scale, value, bg, fg) {
  const y = scale.getPixelForValue(value);
  const left = 1876, right = 1910, h = 6;
  ctx.beginPath();
  ctx.moveTo(left, y);
  ctx.lineTo(left + 6, y - h);
  ctx.lineTo(right, y - h);
  ctx.lineTo(right, y + h);
  ctx.lineTo(left + 6, y + h);
  ctx.closePath();
  ctx.fillStyle = bg;
  ctx.fill();
  ctx.strokeStyle = LIGHT;
  ctx.lineWidth = 1;
  ctx.stroke();
  ctx.fillStyle = fg;
  ctx.font = "11px " + FONT;
  ctx.textAlign = "left";
  ctx.textBaseline = "middle";
  ctx.fillText(value.toFixed(2), left + 6, y + 0.5);
}

const overlayPlugin = {
  id: "overlay",
  afterDatasetsDraw(chart) {
    const ctx = chart.ctx;
    const small = "11px " + FONT;
    const count = "bold 12px " + FONT;
    const yTop = chart.scales.yTop, yBottom = chart.scales.yBottom;
    ctx.save();

    // frame of the panels
    ctx.strokeStyle = LIGHT;
    ctx.lineWidth = 1;
    [[0, 27.5, 1920, 27.5], [0, 526.5, 1873, 526.5], [0, 1101.5, 1873, 1101.5], [0.5, 27, 0.5, 1147], [1873.5, 27, 1873.5, 1147], [0, 1146.5, 1920, 1146.5]].forEach((l) => {
      ctx.beginPath();
      ctx.moveTo(l[0], l[1]);
      ctx.lineTo(l[2], l[3]);
      ctx.stroke();
    });

    // title and legends
    ctx.textBaseline = "middle";
    ctx.textAlign = "center";
    ctx.fillStyle = "#000000";
    ctx.font = "16px " + FONT;
    ctx.fillText(chartTitle, 956, 13);
    ctx.textAlign = "left";
    ctx.fillStyle = LIGHT;
    ctx.font = small;
    ctx.fillText(upperLegend, 3, 39);
    ctx.fillText(lowerLegend, 3, 544);
    ctx.fillText(copyright, 3, 1096);

    // level values beside the profiles
    const valueRows = (vals, xs) => vals.map((v, i) => [String(v), xs[i], v]).filter((r) => r[1] !== null);
    putText(ctx, chart, "yTop", valueRows(upperVah, upperValueX), "#008000", small);
    putText(ctx, chart, "yTop", valueRows(upperPoc, upperValueX), "#ff0000", small);
    putText(ctx, chart, "yTop", valueRows(upperVal, upperValueX), "#ff00ff", small);
    putText(ctx, chart, "yBottom", valueRows(lowerVah, lowerValueX), "#0000ff", small);
    putText(ctx, chart, "yBottom", valueRows(lowerPoc.slice(0, -1), lowerValueX), "#ff0000", small);
    putText(ctx, chart, "yBottom", [[String(lowerPoc[lowerPoc.length - 1]), lowerValueX[lowerValueX.length - 1], lowerPoc[lowerPoc.length - 1]]], "#000000", small);
    putText(ctx, chart, "yBottom", valueRows(lowerVal, lowerValueX), "#ff00ff", small);

    putText(ctx, chart, "yTop", upperGreenText, "#008000", small);
    putText(ctx, chart, "yTop", upperRedText, "#ff0000", small);
    putText(ctx, chart, "yTop", upperBlackText, "#000000", small);
    putText(ctx, chart, "yTop", upperGreyCounts, "#808080", count);
    putText(ctx, chart, "yTop", upperTealCounts, "#20b2aa", count);
    putText(ctx, chart, "yTop", upperWhiteCounts, "#ffffff", count);
    putText(ctx, chart, "yTop", upperCrimsonCounts, "#dc143c", count);
    putText(ctx, chart, "yTop", upperLimeCounts, "#9acd32", count);
    // pivot names sit left of the pivot lines
    const pivotX = (rows) => rows.map((r) => [r[0], 248.7, r[1]]);
    putText(ctx, chart, "yTop", pivotX(pivotNames), "#0000ff", small);
    putText(ctx, chart, "yTop", pivotX(pivotNamesWhite), LIGHT, small);
    putText(ctx, chart, "yTop", pivotX(pivotNamesRed), "#ff0000", small);
    putText(ctx, chart, "yBottom", lowerGreenText, "#008000", small);
    putText(ctx, chart, "yBottom", lowerRedText, "#ff0000", small);

    greenUpArrows.forEach((r) => putArrow(ctx, chart, r, "#00ff00", false));
    redDownArrows.forEach((r) => putArrow(ctx, chart, r, "#ff0000", true));
    blackDownArrows.forEach((r) => putArrow(ctx, chart, r, "#000000", true));

    upperBlueTags.forEach((v) => putTag(ctx, yTop, v, "#0000ff", "#ffffff"));
    upperBlackTags.forEach((v) => putTag(ctx, yTop, v, "#000000", "#ffffff"));
    upperWhiteTags.forEach((v) => putTag(ctx, yTop, v, LIGHT, "#000000"));
    upperRedTags.forEach((v) => putTag(ctx, yTop, v, "#ff0000", "#ffffff"));
    lowerBlueTags.forEach((v) => putTag(ctx, yBottom, v, "#0000ff", "#ffffff"));
    ctx.restore();
  },
};

// ====== CHART ======
const chart = new Chart(document.getElementById("chart").getContext("2d"), {
  type: "bar",
  data: { datasets: datasets },
  plugins: [overlayPlugin],
  options: {
    responsive: false,
    animation: false,
    devicePixelRatio: 1,
    layout: { padding: { left: 1, top: 27, right: 0, bottom: 0 } },
    plugins: { legend: { display: false }, tooltip: { enabled: false }, title: { display: false } },
    scales: {
      x: {
        type: "linear",
        offset: false,
        bounds: "data",
        min: -1.314,
        max: 266.11,
        afterBuildTicks(scale) {
          const ticks = [];
          dayStart.forEach((s) => {
            ticks.push({ value: s }, { value: s + 1 });
          });
          scale.ticks = ticks;
        },
        afterFit(scale) {
          scale.height = 46;
          scale.paddingLeft = 0;
          scale.paddingRight = 0;
        },
        grid: {
          offset: false,
          color: (c) => (c.tick && dayStart.includes(c.tick.value) ? "#c8c8c8" : "#606060"),
          tickColor: (c) => (c.tick && dayStart.includes(c.tick.value) ? "rgba(0,0,0,0)" : LIGHT),
          tickLength: 7,
          lineWidth: 1,
        },
        border: { display: false },
        ticks: {
          autoSkip: false,
          maxRotation: 0,
          padding: 2,
          color: LIGHT,
          font: { family: "Liberation Sans", size: 11 },
          callback: (v) => {
            const at = dayStart.indexOf(v - 1);
            return at >= 0 ? dayLabels[at] : "";
          },
        },
      },
      yTop: {
        type: "logarithmic",
        position: "right",
        stack: "panels",
        stackWeight: 499,
        bounds: "data",
        min: 71.31,
        max: 82.49,
        afterBuildTicks(scale) { scale.ticks = upperTicks.map((v) => ({ value: v })); },
        afterFit(scale) { scale.width = 47; },
        grid: { drawOnChartArea: false, tickLength: 5, tickColor: LIGHT },
        border: { display: false },
        ticks: {
          autoSkip: false,
          padding: 3,
          color: LIGHT,
          font: { family: "Liberation Sans", size: 11 },
          callback: (v) => Number(v).toFixed(2),
        },
      },
      yBottom: {
        type: "linear",
        position: "right",
        stack: "panels",
        stackWeight: 575,
        bounds: "data",
        min: 71.23,
        max: 82.447,
        afterBuildTicks(scale) { scale.ticks = lowerTicks.map((v) => ({ value: v })); },
        afterFit(scale) { scale.width = 47; },
        grid: { drawOnChartArea: false, tickLength: 5, tickColor: LIGHT },
        border: { display: false },
        ticks: {
          autoSkip: false,
          padding: 3,
          color: LIGHT,
          font: { family: "Liberation Sans", size: 11 },
          callback: (v) => String(v),
        },
      },
    },
  },
});

// one bar is 7 px wide on the original, first bar 10 px from the window edge
const BAR_PITCH = 7;
const FIRST_BAR = 10.5;
const area = chart.chartArea;
chart.options.scales.x.min = (area.left - FIRST_BAR) / BAR_PITCH;
chart.options.scales.x.max = (area.right - FIRST_BAR) / BAR_PITCH;
chart.update();
</script>
</body>
</html>
